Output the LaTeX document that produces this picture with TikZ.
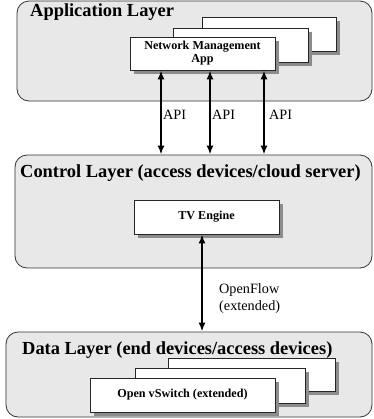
\documentclass[tikz,border=0pt]{standalone}
\usepackage{fontspec}
\setmainfont{Liberation Serif}
\usetikzlibrary{arrows.meta,shadows}
\tikzset{
  layer/.style={draw=black!80, fill=black!9, rounded corners=12bp, line width=0.8bp},
  layertitle/.style={anchor=west, inner sep=0pt, font=\fontsize{18.5}{20}\selectfont\bfseries},
  modbox/.style={draw=black!85, fill=white, line width=0.8bp, align=center,
    font=\fontsize{12.2}{13}\selectfont\bfseries,
    drop shadow={shadow xshift=4bp, shadow yshift=-4bp, fill=black!45, opacity=1}},
  link/.style={{Latex[length=9bp,width=7bp]}-{Latex[length=9bp,width=7bp]}, line width=2.6bp},
  linklabel/.style={anchor=west, inner sep=0pt, align=left, font=\fontsize{14.3}{17}\selectfont}
}
\begin{document}
\begin{tikzpicture}[x=1bp, y=-1bp]
    \useasboundingbox (0,0) rectangle (374,419);

    % application layer
    \node[layer, minimum width=355bp, minimum height=100bp] (appl) at (194.5,51) {};
    \node[layertitle] (appltitle) at (30,12) {Application Layer};
    \node[modbox, minimum width=134bp, minimum height=34bp] (app3) at (269,34) {};
    \node[modbox, minimum width=135bp, minimum height=34bp] (app2) at (240.5,45) {};
    \node[modbox, minimum width=145bp, minimum height=33bp] (app1) at (202.5,53.5) {Network Management\\App};

    % control layer
    \node[layer, minimum width=357bp, minimum height=113bp] (ctrl) at (193.5,211.5) {};
    \node[layertitle] (ctrltitle) at (20,173) {Control Layer (access devices/cloud server)};
    \node[modbox, minimum width=145bp, minimum height=34bp] (tv) at (206.5,217) {TV Engine};

    % data layer
    \node[layer, minimum width=366bp, minimum height=85bp] (data) at (189,374.5) {};
    \node[layertitle] (datatitle) at (22,350) {Data Layer (end devices/access devices)};
    \node[modbox, minimum width=167bp, minimum height=33bp] (sw3) at (251.5,374.5) {};
    \node[modbox, minimum width=170bp, minimum height=35bp] (sw2) at (220,385.5) {};
    \node[modbox, minimum width=185bp, minimum height=34bp] (sw1) at (182.5,395) {Open vSwitch (extended)};

    % API links
    \coordinate (apiA) at (161,0);
    \coordinate (apiB) at (210,0);
    \coordinate (apiC) at (264,0);
    \draw[link] (app1.south -| apiA) -- (ctrl.north -| apiA);
    \draw[link] (app1.south -| apiB) -- (ctrl.north -| apiB);
    \draw[link] (app1.south -| apiC) -- (ctrl.north -| apiC);
    \node[linklabel] (apilabA) at (163,115) {API};
    \node[linklabel] (apilabB) at (212,115) {API};
    \node[linklabel] (apilabC) at (269,115) {API};

    % OpenFlow link
    \coordinate (ofx) at (202,0);
    \draw[link] (tv.south -| ofx) -- (data.north -| ofx);
    \node[linklabel] (oflab) at (219,298.5) {OpenFlow\\(extended)};
\end{tikzpicture}
\end{document}
